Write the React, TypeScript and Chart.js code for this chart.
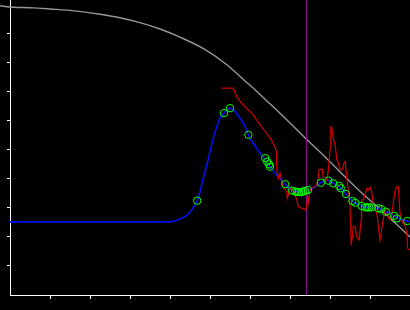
import React, { useEffect, useRef } from "react";
import { Chart, registerables } from "chart.js";

Chart.register(...registerables);

const xTicks = [10, 20, 30, 40, 50, 60, 70, 80, 90];
const yTicks = [10, 20, 30, 40, 50, 60, 70, 80, 90];
const xMin = 0;
const xMax = 100;
const yMin = 0;
const yMax = 101.7;

const grayX = [-2.5, 0, 5.8, 10, 14.3, 18.3, 22.5, 27.5, 32.5, 37.5, 42.5, 48.8, 54.3, 58.5, 61.3, 65, 70, 73.8, 78.8, 83.8, 88.8, 92.5, 96.3, 100];
const grayY = [99.7, 99.3, 99.0, 98.6, 98.2, 97.6, 96.8, 95.6, 93.9, 91.7, 88.9, 84.6, 79.3, 74.1, 70.7, 65.9, 59.3, 54.1, 47.6, 40.7, 34.1, 29.7, 24.8, 20.0];

const blueX = [0, 12.5, 27.5, 38.8, 40.5, 42.5, 44.3, 45.6, 46.8, 47.5, 48.3, 49.2, 50, 50.8, 51.7, 52.5, 53.5, 55, 56.3, 57.5, 58.6, 59.6, 60.8, 62.5, 63.8, 65, 66.7, 68.8, 70.5, 72.5, 74.5, 76.3, 77.7, 79.6, 80.8, 82.3, 84, 85.6, 87, 88.8, 90.5, 92.1, 94, 96, 97.5, 99.5, 100];
const blueY = [25.2, 25.2, 25.2, 25.2, 25.3, 26.2, 27.6, 29.7, 32.5, 35.6, 40.2, 44.8, 49.4, 54.0, 58.0, 60.9, 62.7, 64.4, 63.2, 60.9, 58.6, 55.2, 52.3, 48.9, 46.6, 44.2, 41.4, 38.2, 36.2, 35.5, 36.2, 37.3, 38.7, 39.5, 38.5, 37.4, 34.8, 32.4, 31.2, 30.3, 30.2, 29.9, 28.7, 27.3, 26.2, 25.4, 25.3];

const greenX = [46.8, 53.5, 55, 59.6, 63.8, 64.3, 64.8, 65, 68.8, 70.5, 71.3, 71.8, 72.3, 72.8, 73.3, 73.8, 74.5, 77.7, 79.6, 80.8, 82.3, 82.7, 84, 85.6, 86.3, 87.9, 88.8, 89.3, 89.8, 90.4, 92.1, 92.8, 94, 96, 96.7, 99.3];
const greenY = [32.5, 62.7, 64.4, 55.2, 47.2, 46.0, 45.0, 44.2, 38.2, 36.0, 35.7, 35.5, 35.5, 35.5, 35.7, 35.9, 36.2, 38.7, 39.4, 38.5, 37.6, 36.8, 34.8, 32.4, 31.8, 30.7, 30.2, 30.2, 30.2, 30.2, 29.9, 29.6, 28.7, 27.3, 26.4, 25.5];

const redX = [52.9, 55.8, 56.7, 57.9, 60.4, 62.9, 65.4, 66.4, 66.6, 66.7, 67.1, 67.5, 67.9, 68.3, 69.2, 69.3, 69.6, 69.8, 70.3, 71, 71.7, 72.1, 72.9, 73.6, 73.9, 74.2, 74.4, 74.6, 75, 75.4, 76.3, 76.7, 77.1, 77.3, 78.1, 78.3, 78.8, 79.2, 79.6, 80, 80.2, 80.4, 80.8, 81.3, 81.7, 82.1, 82.5, 83, 83.4, 83.8, 84.2, 84.6, 85, 85.3, 85.6, 85.8, 86.3, 86.7, 87.3, 87.8, 87.9, 88.3, 88.6, 89.2, 89.6, 90, 90.4, 90.8, 91.3, 91.7, 92.1, 92.5, 92.9, 93.3, 93.8, 94.2, 94.6, 95, 95.4, 95.8, 96.3, 96.7, 97.1, 97.5, 97.9, 98.3, 98.8, 99.2, 99.4, 100];
const redY = [71.3, 71.3, 68.4, 66.1, 62.7, 58.0, 53.4, 50.6, 49.4, 43.1, 40.2, 42.1, 39.7, 37.3, 35.6, 33.3, 34.5, 36.2, 36.8, 35.5, 32.8, 30.4, 29.9, 29.6, 29.3, 30.4, 33.9, 31.8, 36.2, 36.8, 37.3, 37.9, 40.8, 43.3, 43.3, 40.2, 39.1, 39.7, 43.1, 50.0, 58.0, 58.0, 54.0, 51.7, 46.6, 45.4, 43.1, 43.1, 45.2, 46.0, 40.2, 36.2, 31.0, 17.2, 20.1, 23.6, 23.6, 20.1, 19.0, 25.9, 32.8, 32.8, 33.9, 36.8, 36.2, 37.2, 35.6, 31.6, 29.9, 28.2, 23.6, 19.0, 22.4, 25.9, 29.9, 29.9, 27.0, 25.9, 27.0, 31.6, 36.2, 37.3, 37.3, 28.2, 25.9, 24.7, 23.8, 21.3, 16.1, 15.5];

const markerX = [74.1, 74.1];
const markerY = [0, 101.7];

const pts = (xs: number[], ys: number[]) => xs.map((x, i) => ({ x, y: ys[i] }));

export default function App() {
  const ref = useRef<HTMLCanvasElement | null>(null);

  useEffect(() => {
    document.body.style.margin = "0";
    document.body.style.background = "#000";
    const canvas = ref.current;
    if (!canvas) return;
    const chart = new Chart(canvas, {
      type: "scatter",
      data: {
        datasets: [
          {
            label: "obs",
            data: pts(greenX, greenY),
            showLine: false,
            pointRadius: 3.7,
            pointBorderWidth: 1,
            pointBorderColor: "#00ff00",
            pointBackgroundColor: "rgba(0,0,0,0)",
            pointStyle: "circle",
          },
          {
            label: "red",
            data: pts(redX, redY),
            showLine: true,
            borderColor: "#d00000",
            borderWidth: 1.2,
            pointRadius: 0,
            tension: 0,
          },
          {
            label: "blue",
            data: pts(blueX, blueY),
            showLine: true,
            borderColor: "#0010f0",
            borderWidth: 1.6,
            pointRadius: 0,
            cubicInterpolationMode: "monotone",
          },
          {
            label: "marker",
            data: pts(markerX, markerY),
            showLine: true,
            borderColor: "#960a96",
            borderWidth: 1,
            pointRadius: 0,
          },
          {
            label: "gray",
            data: pts(grayX, grayY),
            showLine: true,
            borderColor: "#969696",
            borderWidth: 1.4,
            pointRadius: 0,
            cubicInterpolationMode: "monotone",
            clip: false as any,
          },
        ],
      },
      options: {
        responsive: false,
        animation: false,
        devicePixelRatio: 1,
        layout: { padding: 0, autoPadding: false },
        plugins: {
          legend: { display: false },
          tooltip: { enabled: false },
          title: { display: false },
        },
        scales: {
          x: {
            type: "linear",
            min: xMin,
            max: xMax,
            afterBuildTicks: (s: any) => {
              s.ticks = xTicks.map((v) => ({ value: v }));
            },
            afterFit: (s: any) => {
              s.height = 15;
            },
            ticks: { display: false },
            grid: {
              display: true,
              drawOnChartArea: false,
              drawTicks: true,
              tickLength: 4,
              color: "#ffffff",
              lineWidth: 1,
            },
            border: { display: true, color: "#ffffff", width: 1 },
          },
          y: {
            type: "linear",
            min: yMin,
            max: yMax,
            afterBuildTicks: (s: any) => {
              s.ticks = yTicks.map((v) => ({ value: v }));
            },
            afterFit: (s: any) => {
              s.width = 10;
            },
            ticks: { display: false },
            grid: {
              display: true,
              drawOnChartArea: false,
              drawTicks: true,
              tickLength: 3,
              color: "#ffffff",
              lineWidth: 1,
            },
            border: { display: true, color: "#ffffff", width: 1 },
          },
        },
      },
    });
    return () => chart.destroy();
  }, []);

  return (
    <div style={{ width: 410, height: 310, background: "#000" }}>
      <canvas ref={ref} width={410} height={310} style={{ display: "block", background: "#000" }} />
    </div>
  );
}
